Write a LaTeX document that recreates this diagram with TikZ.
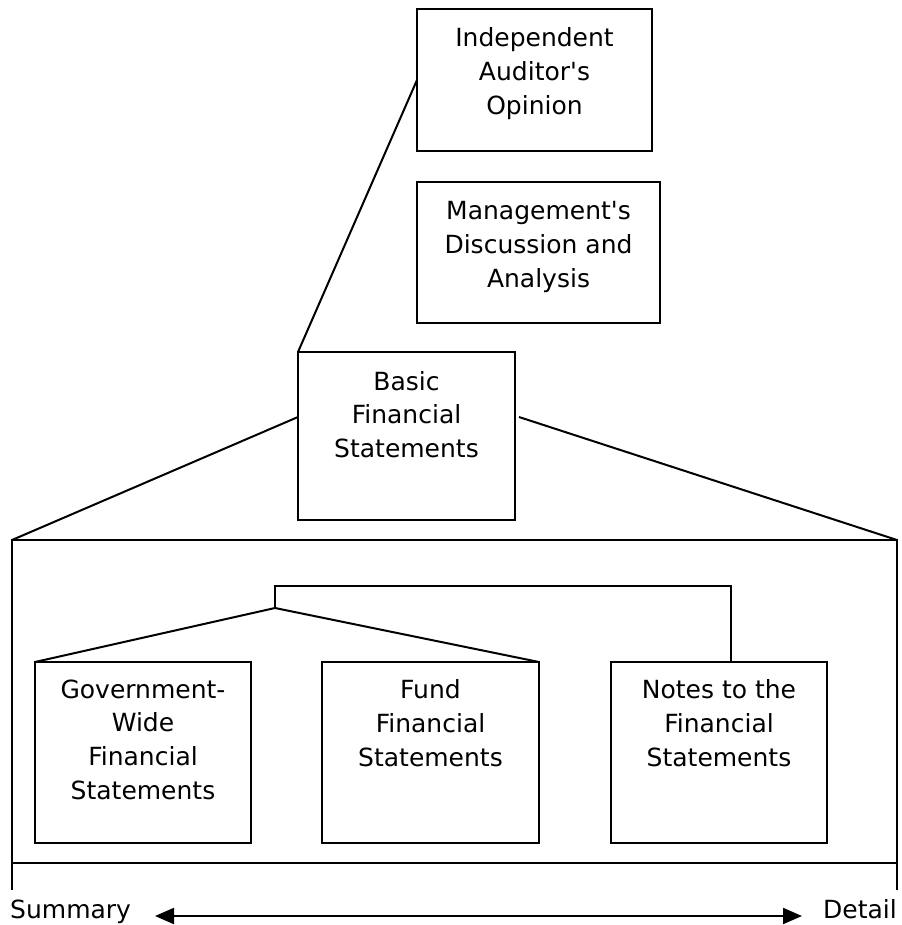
\documentclass[tikz,border=0pt]{standalone}
\usepackage{fontspec}
\setmainfont{DejaVu Sans}
\usetikzlibrary{arrows.meta}
\begin{document}
\begin{tikzpicture}[x=1pt,y=-1pt,
  ln/.style={line width=2pt},
  boxnode/.style={draw,line width=2pt,inner sep=0pt,outer sep=0pt,anchor=north west},
  txt/.style={inner sep=0pt,anchor=north,align=center,font=\fontsize{25}{33.7}\selectfont},
  lbl/.style={inner sep=0pt,font=\fontsize{25}{30}\selectfont},
  tipa/.style={Triangle[length=19pt,width=16pt]}]
\useasboundingbox (0,0) rectangle (901,925);
% boxes
\node[boxnode,minimum width=235pt,minimum height=142pt] (ind) at (417,9) {};
\node[boxnode,minimum width=243pt,minimum height=141pt] (mda) at (417,182) {};
\node[boxnode,minimum width=217pt,minimum height=168pt] (bfs) at (298,352) {};
\node[boxnode,minimum width=885pt,minimum height=323pt] (frame) at (12,540) {};
\node[boxnode,minimum width=216pt,minimum height=181pt] (gov) at (35,662) {};
\node[boxnode,minimum width=217pt,minimum height=181pt] (fund) at (322,662) {};
\node[boxnode,minimum width=216pt,minimum height=181pt] (notes) at (611,662) {};
% texts
\node[txt] (indt) at (534.5,27.5) {Independent\\Auditor\textquotesingle s\\Opinion};
\node[txt] (mdat) at (538.5,201.5) {Management\textquotesingle s\\Discussion and\\Analysis};
\node[txt] (bfst) at (406.5,371) {Basic\\Financial\\Statements};
\node[txt] (govt) at (143,679.5) {Government-\\Wide\\Financial\\Statements};
\node[txt] (fundt) at (430.5,679.5) {Fund\\Financial\\Statements};
\node[txt] (notest) at (719,679.5) {Notes to the\\Financial\\Statements};
\node[lbl,anchor=base west] (sum) at (10,918) {Summary};
\node[lbl,anchor=base east] (det) at (897,918) {Detail};
% coordinates
\coordinate (j) at (275,608);
\coordinate (t) at (275,586);
\coordinate (nt) at ([xshift=12pt]notes.north);
\coordinate (lb) at (12,890);
\coordinate (rb) at (897,890);
\coordinate (arl) at (155,916);
\coordinate (arr) at (802,916);
% connectors
\draw[ln] (ind.west) -- (bfs.north west);
\draw[ln] ([yshift=19pt]bfs.west) -- (frame.north west);
\draw[ln] ([yshift=19pt,xshift=4pt]bfs.east) -- (frame.north east);
\draw[ln] (frame.south west) -- (lb);
\draw[ln] (frame.south east) -- (rb);
\draw[ln] (gov.north west) -- (j) -- (fund.north east);
\draw[ln] (j) -- (t) -| (nt);
\draw[ln,{Triangle[length=19pt,width=16pt]}-{Triangle[length=19pt,width=16pt]}] (arl) -- (arr);
\end{tikzpicture}
\end{document}
